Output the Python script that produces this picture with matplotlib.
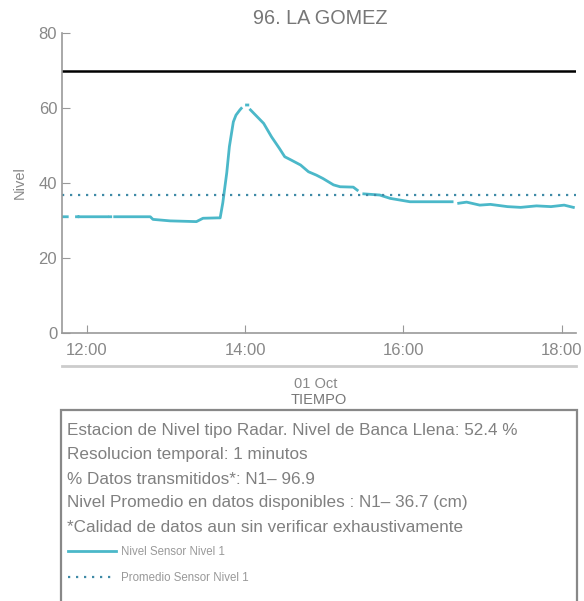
import numpy as np
import pandas as pd
import matplotlib
matplotlib.use("Agg")
import matplotlib.pyplot as plt
import matplotlib.dates as mdates
from matplotlib.lines import Line2D
from matplotlib.patches import Rectangle

plt.rcParams['font.family'] = ['Liberation Sans', 'DejaVu Sans']

# serie (None = sin datos)
horas = ["11:41", "11:45", "11:48", "11:52", "11:53", "11:53", "11:54", "12:15", "12:16",
         "12:17", "12:18", "12:19", "12:21", "12:48", "12:50", "13:03", "13:23",
         "13:28", "13:39", "13:41", "13:43", "13:46", "13:48", "13:51", "13:53",
         "13:56", "13:57", "13:59", "14:01", "14:02", "14:03", "14:04", "14:14", "14:20",
         "14:26", "14:30", "14:35", "14:42", "14:48", "14:54", "14:59", "15:07",
         "15:12", "15:22", "15:25", "15:27", "15:30", "15:42", "15:50", "16:05",
         "16:37", "16:39", "16:42", "16:48", "16:58", "17:06", "17:19", "17:29",
         "17:41", "17:52", "18:02", "18:09"]
nivel = [31.0, 31.0, None, 31.0, 31.0, None, 31.0, 31.0, None,
         31.0, 31.0, None, 31.0, 31.0, 30.3, 29.9, 29.7,
         30.6, 30.7, 30.7, 34.7, 42.7, 49.7, 56.3, 58.1,
         59.5, 59.9, None, 60.8, 60.8, None, 59.5, 55.9, 52.3,
         49.2, 47.0, 46.1, 44.8, 43.0, 42.1, 41.2, 39.5,
         39.0, 38.9, 38.1, None, 37.1, 36.8, 35.9, 35.0,
         35.0, None, 34.6, 34.9, 34.1, 34.3, 33.7, 33.5,
         33.9, 33.7, 34.1, 33.5]
promedio = 36.7
banca_llena = 70

tiempo = pd.to_datetime(["2023-10-01 " + h for h in horas])
nivel = np.array([np.nan if v is None else v for v in nivel])

fig = plt.figure(figsize=(5.84, 6.01), dpi=100)
ax = fig.add_axes([62/584, 1-333/601, 514/584, 300/601])

gris = '#888888'
ax.plot(tiempo, nivel, color='#4bb8c9', lw=2.0, label='Nivel Sensor Nivel 1')
ax.axhline(promedio, color='#3f8aa6', lw=1.6, ls=(0, (1, 2.6)), label='Promedio Sensor Nivel 1')
ax.axhline(banca_llena, color='black', lw=1.8)

ax.set_ylim(0, 80)
ax.set_yticks([0, 20, 40, 60, 80])
ax.set_xlim(pd.Timestamp("2023-10-01 11:41"), pd.Timestamp("2023-10-01 18:11"))
ax.set_xticks(pd.to_datetime(["2023-10-01 %d:00" % h for h in (12, 14, 16, 18)]))
ax.xaxis.set_major_formatter(mdates.DateFormatter('%H:%M'))

for s in ['top', 'right']:
    ax.spines[s].set_visible(False)
for s in ['left', 'bottom']:
    ax.spines[s].set_color('#999999')
    ax.spines[s].set_linewidth(1.2)
ax.tick_params(axis='both', direction='in', length=6, color='#999999',
               labelcolor=gris, labelsize=12)
ax.tick_params(axis='x', pad=7)

ax.set_ylabel('Nivel', color=gris, fontsize=10.5)
ax.yaxis.set_label_coords(-0.068, 0.5)
fig.text(320/584, 1-18/601, '96. LA GOMEZ', ha='center', va='center',
         color='#777777', fontsize=14.3)

# eje de fecha
fig.add_artist(Line2D([62/584, 576/584], [1-366/601]*2, color='#cccccc', lw=2))
fig.text(316/584, 1-383/601, '01 Oct', ha='center', va='center_baseline', color=gris, fontsize=10.5)
fig.text(319/584, 1-398/601, 'TIEMPO', ha='center', va='center_baseline', color='#777777', fontsize=10.5)

# cuadro de informacion
fig.add_artist(Rectangle((61/584, -0.05), 516/584, 1-410/601+0.05,
                         transform=fig.transFigure, fill=False,
                         edgecolor='#888888', lw=1.6))
lineas = ["Estacion de Nivel tipo Radar. Nivel de Banca Llena: 52.4 %",
          "Resolucion temporal: 1 minutos",
          "% Datos transmitidos*: N1\u2013 96.9",
          "Nivel Promedio en datos disponibles : N1\u2013 36.7 (cm)",
          "*Calidad de datos aun sin verificar exhaustivamente"]
for i, t in enumerate(lineas):
    fig.text(67/584, 1-(431+24*i)/601, t, ha='left', va='center',
             color='#808080', fontsize=12.3)

fig.legend(loc='upper left', bbox_to_anchor=(58/584, 1-536/601), frameon=False,
           fontsize=8.3, labelcolor='#999999', handlelength=4.1, handletextpad=0.5,
           labelspacing=1.15)

fig.savefig('out.png', dpi=100)
